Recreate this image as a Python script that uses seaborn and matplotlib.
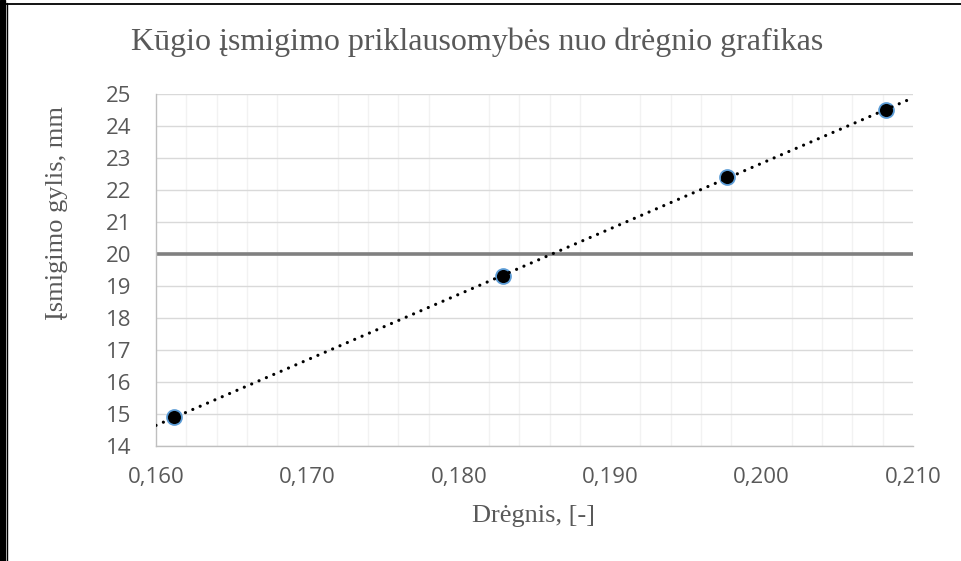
import matplotlib
matplotlib.use("Agg")
import matplotlib.pyplot as plt
from matplotlib.patches import Rectangle
from matplotlib.lines import Line2D
import seaborn as sns
import pandas as pd

# data
moisture = [0.1612, 0.1829, 0.1977, 0.2082]
depth = [14.9, 19.3, 22.4, 24.5]
limit_depth = 20

x_ticks = [0.160, 0.170, 0.180, 0.190, 0.200, 0.210]
x_tick_labels = ["0,160", "0,170", "0,180", "0,190", "0,200", "0,210"]
x_minor = [0.160 + 0.002 * i for i in range(26)]
y_ticks = list(range(14, 26))

title = "Kūgio įsmigimo priklausomybės nuo drėgnio grafikas"
x_label = "Drėgnis, [-]"
y_label = "Įsmigimo gylis, mm"

df = pd.DataFrame({"moisture": moisture, "depth": depth})

sns.set_style("white")
plt.rcParams["font.family"] = ["Liberation Serif", "DejaVu Serif"]

W, H = 962, 561
fig = plt.figure(figsize=(W / 100, H / 100), dpi=100)
ax = fig.add_axes([156 / W, 1 - 446 / H, (913 - 156) / W, (446 - 94) / H])

ax.set_xlim(0.160, 0.210)
ax.set_ylim(14, 25)

# grid
ax.set_xticks(x_minor, minor=True)
ax.grid(which="minor", axis="x", color="#f2f2f2", linewidth=1.0, zorder=0)
ax.set_yticks(y_ticks)
ax.grid(which="major", axis="y", color="#d9d9d9", linewidth=1.0, zorder=0)
ax.set_axisbelow(True)

# threshold line
ax.axhline(limit_depth, color="#808080", linewidth=2.6, zorder=1.5)

# points + linear trendline across full axis
sns.regplot(data=df, x="moisture", y="depth", ax=ax, ci=None, truncate=False,
            scatter_kws=dict(s=115, color="black", edgecolors="#5b9bd5",
                             linewidths=1.3, zorder=3, alpha=1),
            line_kws=dict(color="black", linewidth=2.3,
                          linestyle=(0, (0.01, 2.5)),
                          dash_capstyle="round", zorder=4))
ax.set_xlim(0.160, 0.210)

ax.set_xticks(x_ticks)
ax.set_xticklabels(x_tick_labels)
ax.tick_params(which="both", length=0)
ax.tick_params(axis="x", pad=15)
ax.tick_params(axis="y", pad=18)
for lab in ax.get_xticklabels() + ax.get_yticklabels():
    lab.set_family(["Open Sans", "DejaVu Sans"])
    lab.set_fontsize(16)
    lab.set_color("#595959")

for side in ["top", "right"]:
    ax.spines[side].set_visible(False)
for side in ["left", "bottom"]:
    ax.spines[side].set_color("#bfbfbf")
    ax.spines[side].set_linewidth(1.0)

ax.set_xlabel("")
ax.set_ylabel("")
fig.text(534 / W, 1 - 522 / H, x_label, fontsize=19, color="#595959",
         ha="center", va="baseline")
fig.text(57 / W, 1 - 213 / H, y_label, fontsize=19, color="#595959",
         ha="center", va="center", rotation=90)
fig.text(477 / W, 1 - 50 / H, title, fontsize=23, color="#595959",
         ha="center", va="baseline")

# frame like the source screenshot
fig.patches.append(Rectangle((0, 0), 5 / W, 1, transform=fig.transFigure,
                             color="black", zorder=10))
fig.add_artist(Line2D([6.6 / W, 6.6 / W], [0, 1 - 3 / H], color="black",
                      linewidth=1.0, transform=fig.transFigure))
fig.add_artist(Line2D([0, 1], [1 - 3.5 / H, 1 - 3.5 / H], color="black",
                      linewidth=1.3, transform=fig.transFigure))

fig.savefig("out.png", dpi=100)
plt.close(fig)
